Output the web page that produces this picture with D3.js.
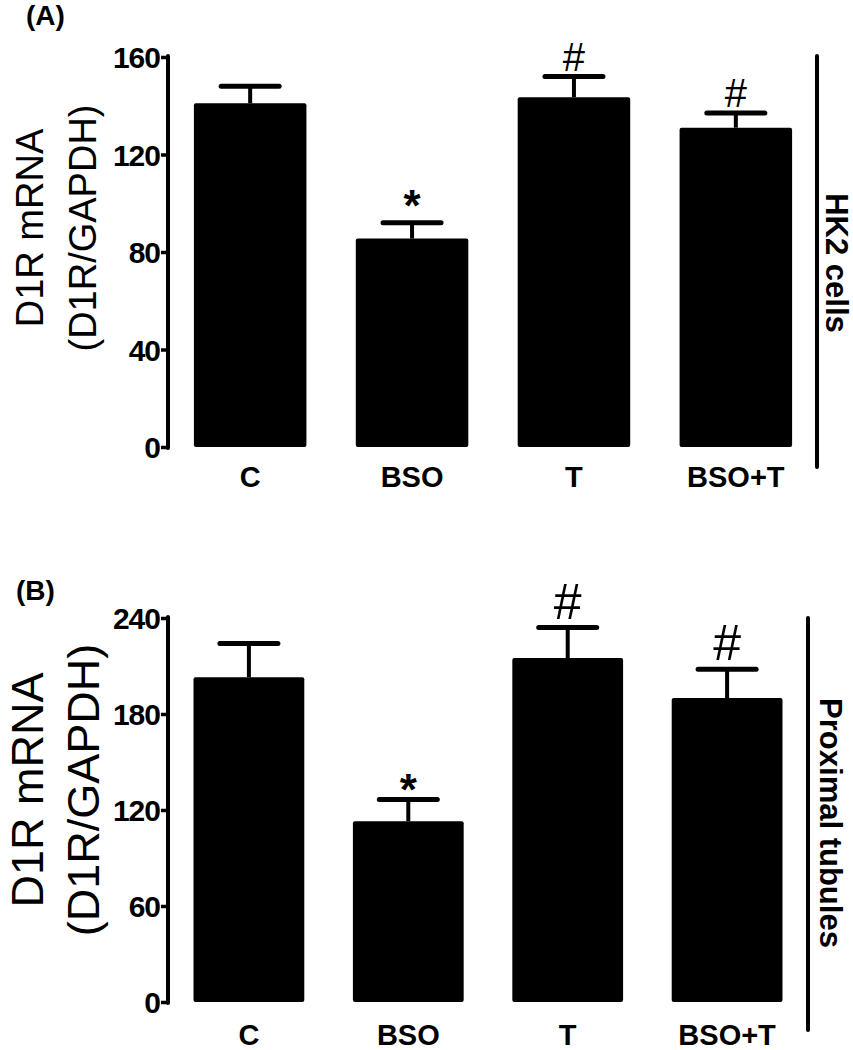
<!DOCTYPE html>
<html><head><meta charset="utf-8">
<script src="https://cdn.jsdelivr.net/npm/d3@7"></script>
<style>body{margin:0;background:#fff}svg{display:block}text{font-family:"Liberation Sans",Arial,sans-serif}</style>
</head><body>
<svg id="c" width="853" height="1050"></svg>
<script>
const categories = ["C", "BSO", "T", "BSO+T"];
const valuesA = [141, 85.5, 143.5, 131];
const errorsA = [7, 6.5, 8.5, 6];
const marksA = ["", "*", "#", "#"];
const ticksA = [0, 40, 80, 120, 160];
const valuesB = [203, 113, 215, 190];
const errorsB = [21, 13.5, 19, 18];
const marksB = ["", "*", "#", "#"];
const ticksB = [0, 60, 120, 180, 240];

const svg = d3.select("#c");

function panel(o) {
  const g = svg.append("g");
  const y = d3.scaleLinear().domain([0, o.max]).range([o.y0, o.y1]);
  const x = d3.scaleBand().domain(categories).range([o.x0, o.x1]).paddingInner(0.305).paddingOuter(0.16);
  const cx = i => x(categories[i]) + x.bandwidth() / 2;
  // bars
  g.selectAll("rect.bar").data(o.values).join("rect")
    .attr("x", (d, i) => x(categories[i]))
    .attr("y", d => y(d))
    .attr("width", x.bandwidth())
    .attr("height", d => y(0) - y(d))
    .attr("rx", 2).attr("fill", "#000");
  // error bars
  g.selectAll("line.err").data(o.values).join("line")
    .attr("x1", (d, i) => cx(i)).attr("x2", (d, i) => cx(i))
    .attr("y1", d => y(d)).attr("y2", (d, i) => y(d + o.errors[i]))
    .attr("stroke", "#000").attr("stroke-width", 4);
  g.selectAll("line.cap").data(o.values).join("line")
    .attr("x1", (d, i) => cx(i) - o.cap).attr("x2", (d, i) => cx(i) + o.cap)
    .attr("y1", (d, i) => y(d + o.errors[i])).attr("y2", (d, i) => y(d + o.errors[i]))
    .attr("stroke", "#000").attr("stroke-width", 5).attr("stroke-linecap", "round");
  // significance marks
  g.selectAll("text.mark").data(o.marks).join("text")
    .attr("x", (d, i) => cx(i))
    .attr("y", (d, i) => y(o.values[i] + o.errors[i]) - (d === "*" ? o.starOff : o.hashOff))
    .attr("text-anchor", "middle")
    .attr("font-size", d => d === "*" ? o.starSize : o.hashSize)
    .attr("font-weight", d => d === "*" ? "bold" : "normal")
    .text(d => d);
  // y axis
  const ax = g.append("g").attr("transform", `translate(${o.x0},0)`)
    .call(d3.axisLeft(y).tickValues(o.ticks).tickSize(7).tickPadding(1).tickSizeOuter(0));
  ax.select(".domain").attr("stroke-width", 4).attr("d", `M0,${o.y1 - 1}V${o.y0 + 1}`).attr("stroke-linecap", "round");
  ax.selectAll(".tick line").attr("stroke-width", 3.5);
  ax.selectAll(".tick text").attr("font-size", 30).attr("font-weight", "bold")
    .attr("font-family", "Liberation Sans, Arial, sans-serif").attr("fill", "#000")
    .attr("dy", "0.36em").attr("letter-spacing", "-1");
  // x labels
  g.selectAll("text.cat").data(categories).join("text")
    .attr("x", d => x(d) + x.bandwidth() / 2).attr("y", o.catY)
    .attr("text-anchor", "middle").attr("font-size", 29).attr("font-weight", "bold").text(d => d);
  // y title
  const t = g.append("text").attr("transform", `translate(${o.titleX},${o.titleY}) rotate(-90)`)
    .attr("text-anchor", "middle").attr("font-size", o.titleSize);
  t.append("tspan").attr("x", 0).attr("dy", 0).text("D1R mRNA");
  t.append("tspan").attr("x", 0).attr("dy", o.titleLine).text("(D1R/GAPDH)");
  // side line + label
  g.append("line").attr("x1", o.sideX).attr("x2", o.sideX).attr("y1", o.sideY1).attr("y2", o.sideY2)
    .attr("stroke", "#000").attr("stroke-width", 4).attr("stroke-linecap", "round");
  g.append("text").attr("transform", `translate(${o.sideX + o.sideOff},${o.sideLabelY}) rotate(90)`)
    .attr("text-anchor", "middle").attr("font-size", o.sideSize).attr("font-weight", "bold").text(o.side);
  // panel letter
  g.append("text").attr("x", o.letterX).attr("y", o.letterY).attr("font-size", 28).attr("font-weight", "bold").text(o.letter);
}

panel({max: 160, values: valuesA, errors: errorsA, marks: marksA, ticks: ticksA,
  x0: 168, x1: 818, y0: 447, y1: 57, cap: 29, catY: 487,
  starOff: 2, hashOff: 6, starSize: 44, hashSize: 40,
  titleX: 43, titleY: 228, titleSize: 38, titleLine: 53,
  sideX: 817, sideY1: 56, sideY2: 467, sideOff: 9, sideLabelY: 263, sideSize: 31, side: "HK2 cells",
  letter: "(A)", letterX: 26, letterY: 25});

panel({max: 240, values: valuesB, errors: errorsB, marks: marksB, ticks: ticksB,
  x0: 168, x1: 808, y0: 1002, y1: 618, cap: 29, catY: 1045,
  starOff: -5, hashOff: 9, starSize: 44, hashSize: 50,
  titleX: 43, titleY: 790, titleSize: 45, titleLine: 56,
  sideX: 808, sideY1: 618, sideY2: 1030, sideOff: 12, sideLabelY: 823, sideSize: 31, side: "Proximal tubules",
  letter: "(B)", letterX: 16, letterY: 600});
</script>
</body></html>
